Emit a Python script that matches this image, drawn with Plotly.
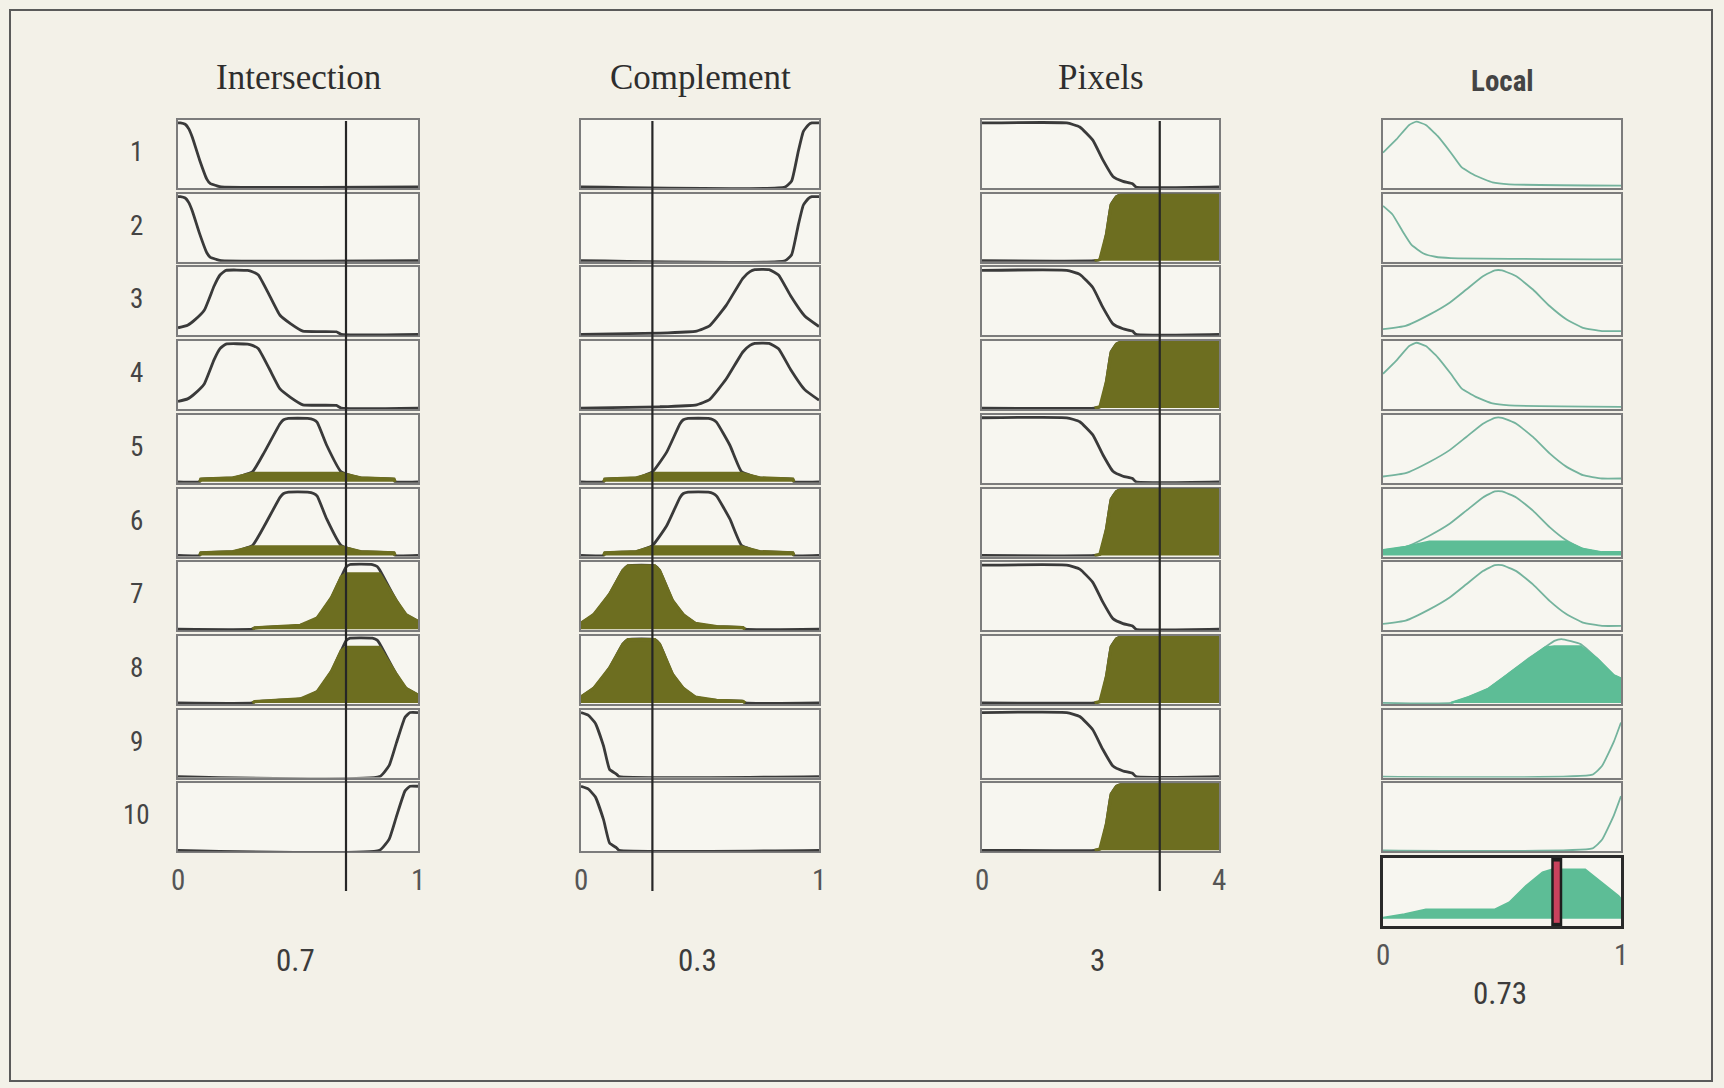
import numpy as np
import plotly.graph_objects as go

W, H = 1724, 1088

# ---------------- data ----------------
TITLES = ["Intersection", "Complement", "Pixels", "Local"]
ROW_LABELS = ["1", "2", "3", "4", "5", "6", "7", "8", "9", "10"]
INPUTS = [0.7, 0.3, 3.0]
INPUT_LABELS = ["0.7", "0.3", "3"]
X_RANGES = [[0, 1], [0, 1], [0, 4], [0, 1]]
TICK_LABELS = [["0", "1"], ["0", "1"], ["0", "4"], ["0", "1"]]
OUTPUT = 0.73
OUTPUT_LABEL = "0.73"

# Intersection membership shapes
INT_X_LOW = [0, 0.01, 0.03, 0.045, 0.06, 0.09, 0.12, 0.135, 0.16, 0.18, 1]
INT_Y_LOW = [0.97, 0.97, 0.95, 0.88, 0.75, 0.41, 0.12, 0.05, 0.02, 0, 0]
INT_X_LMID = [0, 0.04, 0.07, 0.11, 0.15, 0.175, 0.2, 0.29, 0.31, 0.335, 0.38, 0.425, 0.47, 0.52, 0.66, 0.68, 1]
INT_Y_LMID = [0.1, 0.14, 0.22, 0.37, 0.73, 0.9, 0.97, 0.97, 0.95, 0.9, 0.6, 0.29, 0.16, 0.05, 0.04, 0, 0]
INT_X_MID = [0, 0.09, 0.095, 0.23, 0.31, 0.36, 0.425, 0.44, 0.46, 0.54, 0.565, 0.58, 0.62, 0.68, 0.76, 0.9, 0.905, 1]
INT_Y_MID = [0, 0, 0.04, 0.06, 0.15, 0.45, 0.88, 0.94, 0.96, 0.96, 0.94, 0.9, 0.55, 0.15, 0.06, 0.04, 0, 0]
INT_X_HIGH = [0, 0.31, 0.32, 0.51, 0.58, 0.64, 0.68, 0.70, 0.717, 0.81, 0.83, 0.84, 0.91, 0.95, 1.0]
INT_Y_HIGH = [0, 0, 0.02, 0.06, 0.17, 0.48, 0.79, 0.94, 0.98, 0.98, 0.95, 0.9, 0.43, 0.22, 0.12]
INT_X_TOP = [0, 0.84, 0.88, 0.91, 0.946, 0.967, 1]
INT_Y_TOP = [0, 0, 0.17, 0.51, 0.9, 0.97, 0.97]
INT_FIRE = [0, 0, 0, 0, 0.13, 0.13, 0.84, 0.84, 0, 0]

# Complement membership shapes
COMP_X_HIGH = [0, 0.857, 0.885, 0.913, 0.934, 0.955, 0.97, 1]
COMP_Y_HIGH = [0, 0, 0.09, 0.54, 0.84, 0.94, 0.97, 0.97]
COMP_X_HMID = [0, 0.33, 0.486, 0.54, 0.61, 0.68, 0.71, 0.73, 0.79, 0.83, 0.88, 0.94, 1]
COMP_Y_HMID = [0, 0.02, 0.05, 0.13, 0.44, 0.85, 0.95, 0.98, 0.98, 0.9, 0.59, 0.28, 0.12]
COMP_X_MID = [0, 0.095, 0.1, 0.234, 0.30, 0.36, 0.416, 0.43, 0.45, 0.535, 0.555, 0.57, 0.626, 0.675, 0.75, 0.89, 0.895, 1]
COMP_Y_MID = [0, 0, 0.04, 0.06, 0.15, 0.45, 0.88, 0.94, 0.96, 0.96, 0.94, 0.9, 0.55, 0.15, 0.06, 0.04, 0, 0]
COMP_X_LOW = [0, 0.053, 0.12, 0.176, 0.197, 0.31, 0.33, 0.385, 0.43, 0.48, 0.57, 0.68, 0.69, 1]
COMP_Y_LOW = [0.09, 0.22, 0.53, 0.89, 0.96, 0.96, 0.89, 0.43, 0.22, 0.09, 0.04, 0.025, 0, 0]
COMP_X_BOT = [0, 0.03, 0.06, 0.095, 0.12, 0.15, 0.16, 1]
COMP_Y_BOT = [0.97, 0.93, 0.81, 0.46, 0.11, 0.035, 0, 0]
COMP_FIRE = [0, 0, 0, 0, 0.13, 0.13, 1.0, 1.0, 0, 0]

# Pixels membership shapes
PIX_X_DEC = [0, 1.43, 1.65, 1.87, 2.04, 2.21, 2.38, 2.54, 2.6, 4]
PIX_Y_DEC = [0.97, 0.97, 0.91, 0.71, 0.41, 0.16, 0.085, 0.05, 0, 0]
PIX_X_INC = [0, 1.9, 1.99, 2.1, 2.18, 2.27, 2.35, 4]
PIX_Y_INC = [0, 0, 0.02, 0.4, 0.85, 0.97, 1.0, 1.0]
PIX_FIRE = [0, 1, 0, 1, 0, 1, 0, 1, 0, 1]

# Local (output) membership shapes
LOC_X_A = [0, 0.056, 0.11, 0.14, 0.18, 0.23, 0.285, 0.33, 0.39, 0.46, 0.53, 1]
LOC_Y_A = [0.52, 0.72, 0.94, 0.99, 0.94, 0.77, 0.52, 0.30, 0.17, 0.07, 0.04, 0.02]
LOC_X_B = [0, 0.04, 0.08, 0.12, 0.17, 0.22, 0.285, 1]
LOC_Y_B = [0.83, 0.70, 0.46, 0.24, 0.11, 0.06, 0.04, 0.02]
LOC_X_C = [0, 0.095, 0.195, 0.28, 0.35, 0.42, 0.47, 0.5, 0.56, 0.63, 0.7, 0.77, 0.84, 0.92, 1]
LOC_Y_C = [0.08, 0.13, 0.3, 0.48, 0.68, 0.88, 0.97, 0.97, 0.88, 0.68, 0.43, 0.23, 0.1, 0.05, 0.05]
LOC_X_D = [0, 0.286, 0.36, 0.44, 0.52, 0.61, 0.68, 0.72, 0.75, 0.83, 0.9, 0.97, 1]
LOC_Y_D = [0, 0, 0.09, 0.21, 0.42, 0.67, 0.84, 0.94, 0.965, 0.89, 0.67, 0.42, 0.37]
LOC_X_E = [0, 0.88, 0.92, 0.97, 1]
LOC_Y_E = [0, 0.03, 0.16, 0.53, 0.82]
LOC_FIRE = [0, 0, 0, 0, 0, 0.21, 0, 0.855, 0, 0]

# Aggregated output
AGG_X = [0, 0.09, 0.18, 0.47, 0.53, 0.6, 0.67, 0.71, 0.85, 0.92, 0.99, 1]
AGG_Y = [0.02, 0.08, 0.16, 0.16, 0.28, 0.56, 0.79, 0.84, 0.84, 0.62, 0.39, 0.34]

INT_ROWS = [(INT_X_LOW, INT_Y_LOW), (INT_X_LOW, INT_Y_LOW), (INT_X_LMID, INT_Y_LMID), (INT_X_LMID, INT_Y_LMID),
            (INT_X_MID, INT_Y_MID), (INT_X_MID, INT_Y_MID), (INT_X_HIGH, INT_Y_HIGH), (INT_X_HIGH, INT_Y_HIGH),
            (INT_X_TOP, INT_Y_TOP), (INT_X_TOP, INT_Y_TOP)]
COMP_ROWS = [(COMP_X_HIGH, COMP_Y_HIGH), (COMP_X_HIGH, COMP_Y_HIGH), (COMP_X_HMID, COMP_Y_HMID), (COMP_X_HMID, COMP_Y_HMID),
             (COMP_X_MID, COMP_Y_MID), (COMP_X_MID, COMP_Y_MID), (COMP_X_LOW, COMP_Y_LOW), (COMP_X_LOW, COMP_Y_LOW),
             (COMP_X_BOT, COMP_Y_BOT), (COMP_X_BOT, COMP_Y_BOT)]
PIX_ROWS = [(PIX_X_DEC, PIX_Y_DEC) if i % 2 == 0 else (PIX_X_INC, PIX_Y_INC) for i in range(10)]
LOC_ROWS = [(LOC_X_A, LOC_Y_A), (LOC_X_B, LOC_Y_B), (LOC_X_C, LOC_Y_C), (LOC_X_A, LOC_Y_A), (LOC_X_C, LOC_Y_C),
            (LOC_X_C, LOC_Y_C), (LOC_X_C, LOC_Y_C), (LOC_X_D, LOC_Y_D), (LOC_X_E, LOC_Y_E), (LOC_X_E, LOC_Y_E)]

COLUMNS = [(INT_ROWS, INT_FIRE), (COMP_ROWS, COMP_FIRE), (PIX_ROWS, PIX_FIRE), (LOC_ROWS, LOC_FIRE)]

# ---------------- styling / geometry ----------------
PAPER = "#f3f1e8"
PANEL = "#f7f6f0"
DARK = "#3a3a3a"
OLIVE = "#6d6e20"
TEAL_LINE = "#74b39d"
TEAL_FILL = "#5dbd96"
BORDER = "#7c7c7c"
COL_PX = [(178, 418), (581, 819), (982, 1219), (1383, 1621)]
ROW_TOP0, PITCH, PH = 120, 73.7, 68
AGG_TOP, AGG_BOT = 858, 926
NUM_FONT = "Liberation Sans Narrow, Roboto Condensed, DejaVu Sans Condensed, Liberation Sans, sans-serif"

fig = go.Figure()
layout = {}
count = [0]
first_axis = {}


def add_axes(col, top, bottom, xr, yr, bcolor, bw):
    count[0] += 1
    n = count[0]
    sx = "" if n == 1 else str(n)
    x0, x1 = COL_PX[col]
    common = dict(showgrid=False, zeroline=False, showticklabels=False, ticks="",
                  showline=True, mirror=True, linecolor=bcolor, linewidth=bw,
                  layer="below traces", fixedrange=True)
    layout["xaxis" + sx] = dict(domain=[x0 / W, x1 / W], range=xr, anchor="y" + sx, **common)
    layout["yaxis" + sx] = dict(domain=[1 - bottom / H, 1 - top / H], range=yr, anchor="x" + sx, **common)
    if col not in first_axis:
        first_axis[col] = "x" + sx
    return "x" + sx, "y" + sx


def trim(xs, ys):
    idx = [i for i, v in enumerate(ys) if v > 0]
    a = max(idx[0] - 1, 0)
    b = min(idx[-1] + 1, len(ys) - 1)
    return xs[a:b + 1], ys[a:b + 1]


for c, (rows, fire) in enumerate(COLUMNS):
    teal = c == 3
    line_col = TEAL_LINE if teal else DARK
    fill_col = TEAL_FILL if teal else OLIVE
    lw = 1.8 if teal else 2.8
    for r in range(10):
        top = ROW_TOP0 + PITCH * r
        xa, ya = add_axes(c, top, top + PH, X_RANGES[c], [-0.015, 1.015], BORDER, 1.6)
        xs, ys = rows[r]
        fig.add_trace(go.Scatter(x=xs, y=ys, mode="lines", line=dict(color=line_col, width=lw, shape="spline", smoothing=0.4),
                                 xaxis=xa, yaxis=ya, hoverinfo="skip", showlegend=False))
        if fire[r] > 0:
            fx, fy = trim(xs, list(np.minimum(ys, fire[r])))
            fig.add_trace(go.Scatter(x=fx, y=fy, mode="lines", fill="tozeroy", fillcolor=fill_col,
                                     line=dict(color=fill_col, width=lw + 0.4),
                                     xaxis=xa, yaxis=ya, hoverinfo="skip", showlegend=False))

# aggregated output panel
xa, ya = add_axes(3, AGG_TOP, AGG_BOT, [0, 1], [-0.124, 1.03], "#2a2a2a", 2.6)
fig.add_trace(go.Scatter(x=AGG_X, y=AGG_Y, mode="lines", fill="tozeroy", fillcolor=TEAL_FILL,
                         line=dict(color=TEAL_FILL, width=1.5), xaxis=xa, yaxis=ya,
                         hoverinfo="skip", showlegend=False))
fig.add_trace(go.Scatter(x=[OUTPUT, OUTPUT], y=[-0.124, 1.03], mode="lines",
                         line=dict(color="#1e1e1e", width=11), xaxis=xa, yaxis=ya,
                         hoverinfo="skip", showlegend=False))
fig.add_trace(go.Scatter(x=[OUTPUT, OUTPUT], y=[-0.07, 0.97], mode="lines",
                         line=dict(color="#c9425d", width=6), xaxis=xa, yaxis=ya,
                         hoverinfo="skip", showlegend=False))

shapes = []
annotations = []
# input value lines
for c in range(3):
    shapes.append(dict(type="line", xref=first_axis[c], yref="paper", x0=INPUTS[c], x1=INPUTS[c],
                       y0=1 - 891 / H, y1=1 - 121 / H, line=dict(color="#262626", width=2.2), layer="above"))
# outer frame
shapes.append(dict(type="rect", xref="paper", yref="paper", x0=10 / W, x1=1712 / W, y0=1 - 1081 / H,
                   y1=1 - 10 / H, line=dict(color="#5a5a5a", width=2), fillcolor="rgba(0,0,0,0)", layer="below"))

# titles
for c in range(4):
    cx = (COL_PX[c][0] + COL_PX[c][1]) / 2 / W
    if c < 3:
        annotations.append(dict(text=TITLES[c], x=cx, y=1 - 77 / H, xref="paper", yref="paper",
                                showarrow=False, xanchor="center", yanchor="middle",
                                font=dict(family="Liberation Serif, Times New Roman, serif", size=35, color="#2e2e2e")))
    else:
        annotations.append(dict(text="<b>" + TITLES[c] + "</b>", x=cx, y=1 - 81 / H, xref="paper", yref="paper",
                                showarrow=False, xanchor="center", yanchor="middle",
                                font=dict(family=NUM_FONT, size=29, color="#444444")))

# row labels
for r, lab in enumerate(ROW_LABELS):
    cy = ROW_TOP0 + PITCH * r + PH / 2 - 2
    annotations.append(dict(text=lab, x=136 / W, y=1 - cy / H, xref="paper", yref="paper",
                            showarrow=False, xanchor="center", yanchor="middle",
                            font=dict(family=NUM_FONT, size=27, color="#444444")))

# tick labels
for c in range(4):
    ty = 880 if c < 3 else 955
    for val, lab in zip(X_RANGES[c], TICK_LABELS[c]):
        annotations.append(dict(text=lab, x=val, y=1 - ty / H, xref=first_axis[c], yref="paper",
                                showarrow=False, xanchor="center", yanchor="middle",
                                font=dict(family=NUM_FONT, size=29, color="#555555")))

# input / output value labels
for c in range(3):
    cx = (COL_PX[c][0] + COL_PX[c][1]) / 2 / W
    annotations.append(dict(text=INPUT_LABELS[c], x=cx - 3 / W, y=1 - 960 / H, xref="paper", yref="paper",
                            showarrow=False, xanchor="center", yanchor="middle",
                            font=dict(family=NUM_FONT, size=31, color="#3c3c3c")))
cx = (COL_PX[3][0] + COL_PX[3][1]) / 2 / W
annotations.append(dict(text=OUTPUT_LABEL, x=cx - 2 / W, y=1 - 993 / H, xref="paper", yref="paper",
                        showarrow=False, xanchor="center", yanchor="middle",
                        font=dict(family=NUM_FONT, size=31, color="#3c3c3c")))

fig.update_layout(width=W, height=H, margin=dict(l=0, r=0, t=0, b=0), paper_bgcolor=PAPER,
                  plot_bgcolor=PANEL, showlegend=False, shapes=shapes, annotations=annotations, **layout)
fig.write_html("out.html", config={"displayModeBar": False},
               post_script="document.body.style.margin='0';document.body.style.padding='0';"
                           "document.documentElement.style.overflow='hidden';")
